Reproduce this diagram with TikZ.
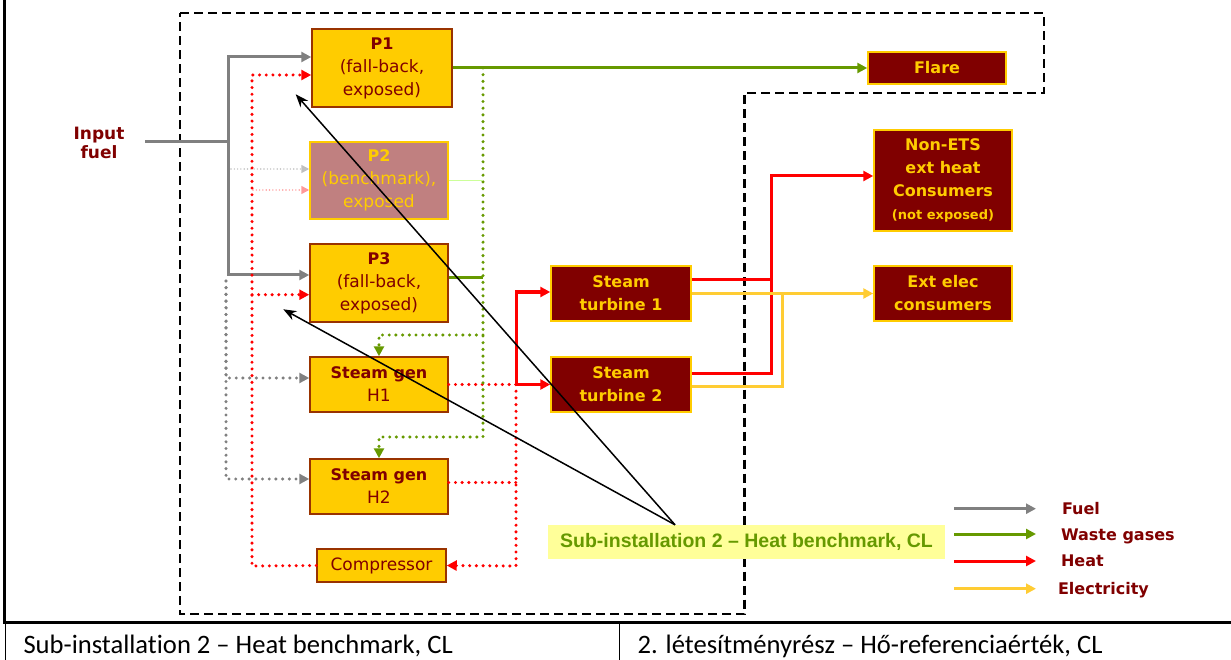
\documentclass[tikz,border=0pt]{standalone}
\usepackage{fontspec}
\setmainfont{DejaVu Sans}
\newfontfamily\arialf{Liberation Sans}
\newfontfamily\calf[Ligatures=NoCommon]{Carlito}
\usetikzlibrary{arrows.meta,calc}
\definecolor{dred}{HTML}{800000}
\definecolor{gold}{HTML}{FFCC00}
\definecolor{yborder}{HTML}{993300}
\definecolor{pgray}{HTML}{808080}
\definecolor{wgreen}{HTML}{669900}
\definecolor{hred}{HTML}{FF0000}
\definecolor{elec}{HTML}{FFCC33}
\definecolor{ptwo}{HTML}{C08080}
\definecolor{callfill}{HTML}{FFFF99}
\definecolor{lgreen}{HTML}{CCFF99}
\definecolor{lgray}{HTML}{C0C0C0}
\definecolor{lpink}{HTML}{FF9999}
\begin{document}
\begin{tikzpicture}[x=1pt,y=-1pt,
  ybox/.style={draw=yborder, fill=gold, text=dred, line width=1.5pt, inner sep=2pt, align=center, font=\fontsize{17}{23}\selectfont},
  boldln/.style={font=\bfseries\fontsize{16}{23}\selectfont},
  mbox/.style={draw=gold, fill=dred, text=gold, line width=1.5pt, inner sep=2pt, align=center, font=\bfseries\fontsize{16}{23}\selectfont},
  tip/.style={-{Triangle[length=10pt,width=10pt]}},
  smalltip/.style={-{Triangle[length=8pt,width=8pt]}},
  flow/.style={line width=3pt},
  dots/.style={line width=3.4pt, line cap=round, dash pattern=on 0pt off 6.7pt},
  thindots/.style={line width=1.6pt, line cap=round, dash pattern=on 0pt off 3.3pt},
  fuel/.style={flow, draw=pgray},
  fueldot/.style={dots, draw=pgray},
  heat/.style={flow, draw=hred},
  heatdot/.style={dots, draw=hred},
  gas/.style={flow, draw=wgreen},
  gasdot/.style={dots, draw=wgreen},
  elecline/.style={flow, draw=elec},
  pointer/.style={line width=1.5pt, draw=black, -{Stealth[length=13pt,width=10pt]}},
  region/.style={line width=2.5pt, dash pattern=on 9pt off 5pt},
  legendlbl/.style={anchor=base west, text=dred, font=\bfseries\fontsize{16}{20}\selectfont},
  rowtext/.style={anchor=base west, text=black, font=\calf\fontsize{26.6}{30}\selectfont}
]
\useasboundingbox (0,0) rectangle (1231,660);

% table frame
\draw[line width=3pt] (4.5,0) -- (4.5,622.5);
\draw[line width=3pt] (3,622.5) -- (1231,622.5);
\draw[line width=1pt] (5,622.5) -- (5,660);
\draw[line width=1pt] (619.5,622.5) -- (619.5,660);
\node[rowtext] (row1) at (20,653) {Sub-installation 2 – Heat benchmark, CL};
\node[rowtext] (row2) at (634,653) {2. létesítményrész – Hő-referenciaérték, CL};

% dashed region
\draw[region] (180,13) -- (1044,13) -- (1044,93) -- (744.5,93) -- (744.5,614) -- (180,614) -- cycle;

% nodes
\node[text=dred, align=center, font=\bfseries\fontsize{17}{18.5}\selectfont] (infuel) at (99,143) {Input\\fuel};
\node[ybox, minimum width=140pt, minimum height=78pt] (p1) at (382,68) {{\bfseries\fontsize{16}{23}\selectfont P1}\\(fall-back,\\exposed)};
\node[ybox, draw=gold, fill=ptwo, text=gold, minimum width=138pt, minimum height=77pt] (p2) at (379,180.5) {{\bfseries\fontsize{16}{23}\selectfont P2}\\(benchmark),\\exposed};
\node[ybox, minimum width=138pt, minimum height=78pt] (p3) at (379,283) {{\bfseries\fontsize{16}{23}\selectfont P3}\\(fall-back,\\exposed)};
\node[ybox, minimum width=138pt, minimum height=55pt] (h1) at (379,384.5) {{\bfseries\fontsize{16}{23}\selectfont Steam gen}\\H1};
\node[ybox, minimum width=138pt, minimum height=55pt] (h2) at (379,486.5) {{\bfseries\fontsize{16}{23}\selectfont Steam gen}\\H2};
\node[ybox, minimum width=129pt, minimum height=33pt] (comp) at (381.5,565.5) {Compressor};
\node[mbox, minimum width=140pt, minimum height=55pt] (st1) at (621,293.5) {Steam\\turbine 1};
\node[mbox, minimum width=140pt, minimum height=55pt] (st2) at (621,384.5) {Steam\\turbine 2};
\node[mbox, minimum width=138pt, minimum height=32pt] (flare) at (937,68) {Flare};
\node[mbox, minimum width=138pt, minimum height=101pt] (nonets) at (943,180.5) {Non-ETS\\ext heat\\Consumers\\{\fontsize{13}{23}\selectfont(not exposed)}};
\node[mbox, minimum width=138pt, minimum height=55pt] (extelec) at (943,293.5) {Ext elec\\consumers};
\node[fill=callfill, text=wgreen, minimum width=397pt, minimum height=34pt, inner sep=0pt, font=\arialf\bfseries\fontsize{19.5}{22}\selectfont] (callout) at (746.5,542) {Sub-installation 2 – Heat benchmark, CL};

% fuel
\coordinate (fin) at (145,142);
\coordinate (fj) at (228,142);
\draw[fuel] (fin) -- (fj);
\draw[fuel,tip] (fj) |- ([yshift=11pt]p1.west);
\draw[fuel,tip] (fj) |- ([yshift=8pt]p3.west);
\coordinate (fd) at (226,281);
\draw[fueldot,tip] (fd) |- ([yshift=6.5pt]h1.west);
\draw[fueldot,tip] (fd) |- ([yshift=7.5pt]h2.west);
\coordinate (fp2) at (231,169);
\draw[thindots, draw=lgray, smalltip] (fp2) -- ([yshift=11.5pt]p2.west);

% heat recirculation
\coordinate (hr) at (252,566);
\draw[heatdot,tip] (comp.west) -- (hr) -- (252,75) -- ([yshift=-7pt]p1.west);
\coordinate (hr3) at (252,294.7);
\draw[heatdot,tip] (hr3) -- ([yshift=-11.7pt]p3.west);
\coordinate (hr2) at (253,190);
\draw[thindots, draw=lpink, smalltip] (hr2) -- ([yshift=-9.5pt]p2.west);

\coordinate (hj) at (516,384.5);
\draw[heatdot] (h1.east) -- (hj);
\draw[heatdot] ([yshift=4pt]h2.east) -- (516,482.5);
\draw[heatdot,tip] (hj) -- (516,566) -- (comp.east);
\draw[heat,tip] (hj) -- (st2.west);
\draw[heat,tip] (hj) -- (516,292) -- ([yshift=1.5pt]st1.west);

% heat to consumers
\draw[heat,tip] ([yshift=13.5pt]st1.east) -- (771,280) -- (771,176) -- ([yshift=4.5pt]nonets.west);
\draw[heat] ([yshift=11.2pt]st2.east) -- (771,373.3) -- (771,278.5);

% electricity
\draw[elecline,tip] (st1.east) -- (extelec.west);
\draw[elecline] ([yshift=-1.5pt]st2.east) -- (782,386) -- (782,292);

% waste gases
\draw[gas,tip] (p1.east) -- (flare.west);
\coordinate (gtop) at (483,68);
\draw[gasdot,tip] (gtop) -- (483,437) -| (h2.north);
\coordinate (g1) at (483,335);
\draw[gasdot,tip] (g1) -| (h1.north);
\draw[gas] ([yshift=5.7pt]p3.east) -- (483,277.3);
\draw[line width=1.5pt, draw=lgreen] (p2.east) -- (483,180.5);

% legend
\coordinate (la) at (954,508.7); \coordinate (lb) at (1036,508.7);
\draw[fuel,tip] (la) -- (lb);
\coordinate (lc) at (954,534); \coordinate (ld) at (1036,534);
\draw[gas,tip] (lc) -- (ld);
\coordinate (le) at (954,561); \coordinate (lf) at (1036,561);
\draw[heat,tip] (le) -- (lf);
\coordinate (lg) at (954,588.7); \coordinate (lh) at (1036,588.7);
\draw[elecline,tip] (lg) -- (lh);
\node[legendlbl] (lfuel) at (1058.5,514.5) {Fuel};
\node[legendlbl] (lgas) at (1057.5,540) {Waste gases};
\node[legendlbl] (lheat) at (1057.5,566.5) {Heat};
\node[legendlbl] (lelec) at (1054.5,594) {Electricity};

% pointers
\coordinate (apex) at ([xshift=-71.5pt]callout.north);
\coordinate (t1) at (295.7,94.3);
\coordinate (t3) at (283.3,309.3);
\draw[pointer] (apex) -- (t1);
\draw[pointer] (apex) -- (t3);
\end{tikzpicture}
\end{document}
